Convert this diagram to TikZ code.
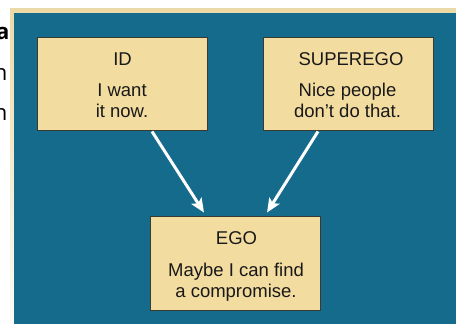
\documentclass[tikz,border=0pt]{standalone}
\usepackage{fontspec}
\setmainfont{Liberation Sans}
\newfontfamily\pagefont{Open Sans}
\usetikzlibrary{arrows.meta}
\definecolor{panelblue}{HTML}{146B8C}
\definecolor{tanfill}{HTML}{F3DCA0}
\definecolor{tanedge}{HTML}{EBD9A6}
\definecolor{boxline}{HTML}{3A3A30}
\tikzset{
  x=1pt, y=-1pt,
  psybox/.style={draw=boxline, line width=0.9pt, fill=tanfill, minimum width=170pt, minimum height=93pt, inner sep=0pt},
  boxtext/.style={font=\fontsize{18.5}{20}\selectfont, text=black!90, inner sep=0pt, anchor=base},
  pagetext/.style={font=\pagefont\fontsize{22}{24}\selectfont, inner sep=0pt, anchor=base east},
  flow/.style={draw=white, line width=3pt, -{Stealth[length=14pt, width=12pt, inset=3pt]}}
}
\begin{document}
\begin{tikzpicture}
\useasboundingbox (0,0) rectangle (456,324);
% page background
\fill[white] (0,0) rectangle (456,324);
\fill[tanedge] (10,8) rectangle (456,13);
\shade[top color=tanedge, bottom color=white!90!tanedge] (10,8) rectangle (14.5,324);
\fill[panelblue] (14,13) rectangle (456,324);
% cut-off page text at left
\node[pagetext, font=\pagefont\bfseries\fontsize{22}{24}\selectfont] (pa) at (9.5,39) {a};
\node[pagetext] (pn1) at (7.5,81) {n};
\node[pagetext] (pn2) at (7.5,120) {n};
% boxes
\node[psybox] (id) at (122,83.5) {};
\node[psybox] (sup) at (348.5,83.5) {};
\node[psybox, minimum height=94pt] (ego) at (235.5,263) {};
% texts
\node[boxtext] (idt) at (122.5,65) {ID};
\node[boxtext] (idb1) at (122,96.5) {I want};
\node[boxtext] (idb2) at (122,117) {it now.};
\node[boxtext] (supt) at (351,65) {SUPEREGO};
\node[boxtext] (supb1) at (347.5,96.5) {Nice people};
\node[boxtext] (supb2) at (347.5,117) {don't do that.};
\node[boxtext] (egot) at (236.5,244) {EGO};
\node[boxtext] (egob1) at (236,276) {Maybe I can find};
\node[boxtext] (egob2) at (236,297) {a compromise.};
% arrows
\coordinate (ida) at ([xshift=30pt,yshift=-1pt]id.south);
\coordinate (supa) at ([xshift=-30.5pt,yshift=-1pt]sup.south);
\coordinate (egol) at ([xshift=-31.5pt,yshift=3pt]ego.north);
\coordinate (egor) at ([xshift=31.5pt,yshift=3pt]ego.north);
\draw[flow] (ida) -- (egol);
\draw[flow] (supa) -- (egor);
\end{tikzpicture}
\end{document}
